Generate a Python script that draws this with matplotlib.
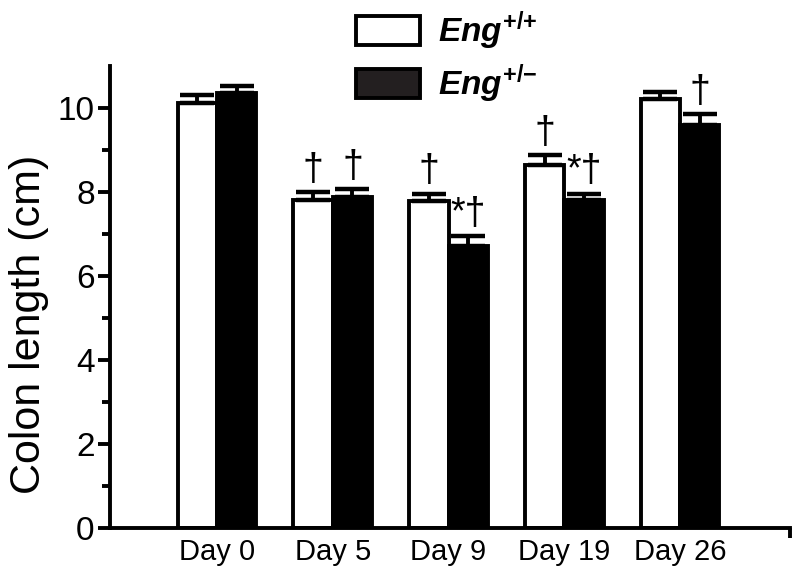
import numpy as np
import matplotlib.pyplot as plt
from matplotlib.patches import Patch
from matplotlib.ticker import FixedLocator

plt.rcParams['font.family'] = ['Liberation Sans', 'DejaVu Sans']
plt.rcParams['mathtext.fontset'] = 'custom'
plt.rcParams['mathtext.it'] = 'Liberation Sans:italic:bold'
plt.rcParams['mathtext.rm'] = 'Liberation Sans:bold'

days = ['Day 0', 'Day 5', 'Day 9', 'Day 19', 'Day 26']
wt_mean = [10.12, 7.8, 7.77, 8.65, 10.21]
wt_sem = [0.18, 0.2, 0.19, 0.23, 0.17]
het_mean = [10.35, 7.88, 6.72, 7.8, 9.6]
het_sem = [0.18, 0.19, 0.22, 0.16, 0.25]
wt_marks = ['', '†', '†', '†', '']
het_marks = ['', '†', '*†', '*†', '†']

x = np.arange(len(days))
w = 0.34
lw = 2.8

fig = plt.figure(figsize=(8, 5.72), dpi=100)
ax = fig.add_axes([0.1375, 0.077, 0.85, 0.808])

xw = x - w / 2
xh = x + w / 2
ax.bar(xw, wt_mean, w, color='white', edgecolor='black', linewidth=lw, zorder=2)
ax.bar(xh, het_mean, w, color='black', edgecolor='black', linewidth=lw, zorder=2)
ax.errorbar(xw, wt_mean, yerr=[np.zeros(len(x)), wt_sem], fmt='none', ecolor='black',
            elinewidth=lw, capsize=12.5, capthick=3.2, zorder=3)
ax.errorbar(xh, het_mean, yerr=[np.zeros(len(x)), het_sem], fmt='none', ecolor='black',
            elinewidth=lw, capsize=12.5, capthick=3.2, zorder=3)

for xi, m, s, t in zip(xw, wt_mean, wt_sem, wt_marks):
    if t:
        ax.text(xi, m + s + 0.1, t, ha='center', va='bottom', fontsize=27)
for xi, m, s, t in zip(xh, het_mean, het_sem, het_marks):
    if t:
        ax.text(xi, m + s + 0.1, t, ha='center', va='bottom', fontsize=27)

ax.set_xlim(-0.925, 4.95)
ax.set_ylim(0, 11)
ax.set_xticks(x)
ax.set_xticklabels(days, fontsize=21)
ax.xaxis.set_minor_locator(FixedLocator([4.95]))
ax.tick_params(axis='x', which='major', length=0, pad=7)
ax.tick_params(axis='x', which='minor', length=7, width=lw, direction='out')
ax.set_yticks([0, 2, 4, 6, 8, 10])
ax.yaxis.set_minor_locator(FixedLocator([1, 3, 5, 7, 9]))
ax.tick_params(axis='y', which='major', length=9, width=lw, labelsize=24, pad=2)
ax.tick_params(axis='y', which='minor', length=6, width=lw)
ax.set_ylabel('Colon length (cm)', fontsize=31)
ax.yaxis.set_label_coords(-0.09, 0.44)

for sp in ['top', 'right']:
    ax.spines[sp].set_visible(False)
for sp in ['left', 'bottom']:
    ax.spines[sp].set_linewidth(lw)

handles = [Patch(facecolor='white', edgecolor='black', linewidth=lw),
           Patch(facecolor='#231f20', edgecolor='black', linewidth=lw)]
labels = [r'$\mathit{Eng}^{+/{+}}$', r'$\mathit{Eng}^{+/{-}}$']
fig.legend(handles, labels, loc='upper left', bbox_to_anchor=(0.408, 1.036),
           frameon=False, fontsize=24, handlelength=1.9, handleheight=0.95,
           labelspacing=0.3, handletextpad=0.55)

fig.savefig('out.png', dpi=100)
